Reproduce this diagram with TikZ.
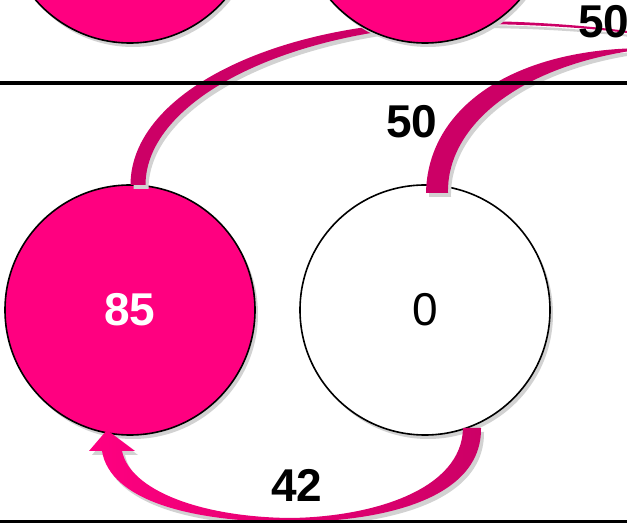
\documentclass[tikz,border=0pt]{standalone}
\usepackage{fontspec}
\setmainfont{Liberation Sans}
\usetikzlibrary{shadows}

\definecolor{hotpink}{HTML}{FF0080}
\definecolor{darkpink}{HTML}{CC0066}
\definecolor{shadegray}{HTML}{D2D2D2}

\tikzset{
  lift/.style={drop shadow={shadow xshift=1.5pt, shadow yshift=-2pt, fill=shadegray, opacity=1}},
  ball/.style={circle, draw=black, line width=0.8pt, minimum size=125pt, inner sep=0pt,
    font=\fontsize{23}{27}\selectfont, lift},
  fullball/.style={ball, fill=hotpink, text=white, font=\fontsize{23}{27}\selectfont\bfseries},
  emptyball/.style={ball, fill=white},
  count/.style={font=\fontsize{23}{27}\selectfont\bfseries},
  band/.style={fill=darkpink, lift},
}

\begin{document}
\begin{tikzpicture}[x=0.5pt, y=-0.5pt]
  \useasboundingbox (0,0) rectangle (627,523);
  \clip (0,0) rectangle (627,523);

  % lower row
  \node[fullball] (ballA) at (130,310) {85};
  \node[emptyball] (ballB) at (425,310) {0};

  % free ends off the right edge
  \coordinate (exitA) at (627,32);
  \coordinate (exitB) at (627,50);

  % tapered tails leaving the lower row
  \path[band] (130.5,185) .. controls (130.5,90) and (285,17) .. (470,21)
    .. controls (530,21) and (590,26) .. (627,31)
    -- (627,33) .. controls (590,28) and (530,24) .. (470,24)
    .. controls (289,27) and (145.5,100) .. (145.5,185) -- cycle;
  \path[band] (426,193) .. controls (427.5,111) and (506,54) .. (627,48.5)
    -- (627,51.5) .. controls (513.5,70) and (446.5,129) .. (448,193) -- cycle;

  % the 42 arrow, right to left
  \path[lift, left color=hotpink, right color=darkpink]
    (481,428) .. controls (482,500) and (380,522) .. (290,522)
    .. controls (190,522) and (110,500) .. (102,451)
    -- (89,451) -- (107,430) -- (135,451) -- (122,451)
    .. controls (130,490) and (200,517) .. (290,518)
    .. controls (372,517) and (462,490) .. (463,428) -- cycle;

  % upper row, cut by the top edge
  \node[fullball] (ballC) at (130,-82) {};
  \node[fullball] (ballD) at (425,-82) {};

  % dividing lines
  \draw[line width=2pt] (0,83) -- (627,83);
  \draw[line width=1.5pt] (0,521.5) -- (627,521.5);

  % labels
  \node[count] (lblA) at (412,122) {50};
  \node[count] (lblB) at (604,22) {50};
  \node[count] (lblC) at (297,485) {42};
\end{tikzpicture}
\end{document}
